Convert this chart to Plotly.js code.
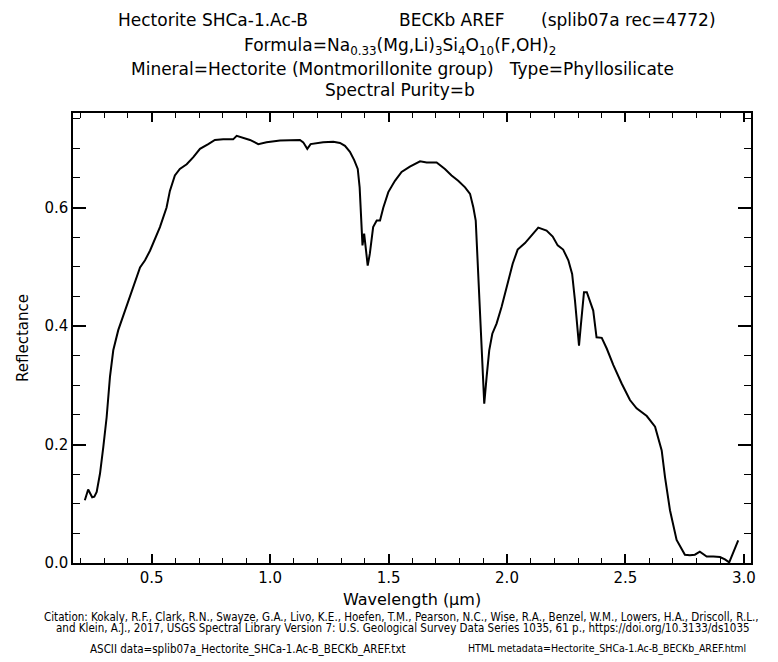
<!DOCTYPE html>
<html>
<head>
<meta charset="utf-8">
<script src="https://cdn.plot.ly/plotly-3.0.1.min.js"></script>
<style>
  html, body { margin: 0; padding: 0; background: #fff; }
  #chart { width: 778px; height: 662px; }
</style>
</head>
<body>
<div id="chart"></div>
<script>
// Wavelength (micrometres)
const wavelength = [
  0.218, 0.232, 0.249, 0.258, 0.268, 0.282, 0.296, 0.310, 0.324, 0.338,
  0.359, 0.373, 0.387, 0.401, 0.416, 0.451, 0.472, 0.493, 0.535, 0.563,
  0.577, 0.598, 0.619, 0.648, 0.676, 0.704, 0.739, 0.767, 0.802, 0.844,
  0.859, 0.880, 0.915, 0.950, 0.985, 1.042, 1.084, 1.126, 1.140, 1.157,
  1.171, 1.224, 1.267, 1.295, 1.316, 1.337, 1.355, 1.370, 1.378, 1.384,
  1.390, 1.397, 1.405, 1.412, 1.421, 1.435, 1.450, 1.464, 1.478, 1.499,
  1.527, 1.555, 1.590, 1.633, 1.661, 1.703, 1.738, 1.766, 1.794, 1.823,
  1.844, 1.858, 1.868, 1.876, 1.886, 1.896, 1.904, 1.914, 1.925, 1.938,
  1.956, 1.977, 1.999, 2.024, 2.045, 2.076, 2.104, 2.132, 2.167, 2.193,
  2.214, 2.237, 2.259, 2.275, 2.287, 2.297, 2.304, 2.311, 2.325, 2.337,
  2.350, 2.364, 2.378, 2.400, 2.421, 2.449, 2.484, 2.519, 2.547, 2.590,
  2.625, 2.653, 2.667, 2.688, 2.716, 2.751, 2.772, 2.793, 2.814, 2.843,
  2.871, 2.899, 2.920, 2.938, 2.976
];
// Reflectance
const reflectance = [
  0.106, 0.124, 0.111, 0.112, 0.120, 0.151, 0.196, 0.246, 0.314, 0.359,
  0.393, 0.409, 0.426, 0.443, 0.460, 0.499, 0.511, 0.527, 0.567, 0.600,
  0.628, 0.654, 0.665, 0.673, 0.685, 0.699, 0.707, 0.714, 0.715, 0.715,
  0.721, 0.718, 0.714, 0.707, 0.710, 0.713, 0.714, 0.714, 0.710, 0.699,
  0.707, 0.710, 0.711, 0.709, 0.704, 0.694, 0.680, 0.665, 0.634, 0.578,
  0.536, 0.556, 0.527, 0.502, 0.522, 0.567, 0.578, 0.578, 0.600, 0.626,
  0.645, 0.660, 0.669, 0.678, 0.676, 0.676, 0.665, 0.654, 0.645, 0.634,
  0.623, 0.600, 0.578, 0.511, 0.426, 0.342, 0.269, 0.314, 0.359, 0.387,
  0.404, 0.432, 0.468, 0.505, 0.529, 0.540, 0.553, 0.566, 0.561, 0.551,
  0.536, 0.529, 0.511, 0.488, 0.443, 0.398, 0.367, 0.398, 0.457, 0.457,
  0.443, 0.426, 0.381, 0.380, 0.362, 0.334, 0.303, 0.275, 0.261, 0.248,
  0.230, 0.190, 0.145, 0.089, 0.039, 0.014, 0.013, 0.014, 0.019, 0.011,
  0.011, 0.010, 0.006, 0.001, 0.038
];

const titleMain = ["Hectorite SHCa-1.Ac-B", "BECKb AREF", "(splib07a rec=4772)"];
const titleFormula = "Formula=Na<sub>0.33</sub>(Mg,Li)<sub>3</sub>Si<sub>4</sub>O<sub>10</sub>(F,OH)<sub>2</sub>";
const titleMineral = "Mineral=Hectorite (Montmorillonite group)   Type=Phyllosilicate";
const titlePurity = "Spectral Purity=b";
const xTitle = "Wavelength (μm)";
const yTitle = "Reflectance";
const citation1 = "Citation: Kokaly, R.F., Clark, R.N., Swayze, G.A., Livo, K.E., Hoefen, T.M., Pearson, N.C., Wise, R.A., Benzel, W.M., Lowers, H.A., Driscoll, R.L.,";
const citation2 = "and Klein, A.J., 2017, USGS Spectral Library Version 7: U.S. Geological Survey Data Series 1035, 61 p., https://doi.org/10.3133/ds1035";
const asciiNote = "ASCII data=splib07a_Hectorite_SHCa-1.Ac-B_BECKb_AREF.txt";
const htmlNote = "HTML metadata=Hectorite_SHCa-1.Ac-B_BECKb_AREF.html";

const FONT = "DejaVu Sans, Liberation Sans, sans-serif";
const SMALL = "DejaVu Sans Condensed, Liberation Sans Narrow, sans-serif";

const trace = {
  x: wavelength, y: reflectance, type: "scatter", mode: "lines",
  line: { color: "#000", width: 2 }, hoverinfo: "skip", showlegend: false
};

function ann(text, x, y, size, family, extra) {
  return Object.assign({
    text: text, x: x, y: y, xref: "paper", yref: "paper",
    xanchor: "center", yanchor: "middle", showarrow: false,
    font: { family: family || FONT, size: size, color: "#000" }
  }, extra || {});
}

const layout = {
  width: 778, height: 662,
  margin: { l: 73, r: 27, t: 113, b: 99 },
  paper_bgcolor: "#fff", plot_bgcolor: "#fff",
  font: { family: FONT, color: "#000", size: 14 },
  xaxis: {
    range: [0.168, 3.03], tick0: 0, dtick: 0.5, tickformat: ".1f",
    ticks: "inside", ticklen: 9, tickwidth: 1.5, tickcolor: "#000",
    showline: true, linecolor: "#000", linewidth: 1.5, mirror: "allticks",
    showgrid: false, zeroline: false,
    tickfont: { family: FONT, size: 15 },
    minor: { dtick: 0.1, ticks: "inside", ticklen: 5, tickwidth: 1.2, tickcolor: "#000" },
    title: { text: xTitle, font: { family: FONT, size: 16 }, standoff: 8 }
  },
  yaxis: {
    range: [0, 0.7595], tick0: 0, dtick: 0.2, tickformat: ".1f",
    ticks: "inside", ticklen: 13, tickwidth: 1.5, tickcolor: "#000",
    showline: true, linecolor: "#000", linewidth: 1.5, mirror: "allticks",
    showgrid: false, zeroline: false,
    tickfont: { family: FONT, size: 15 },
    minor: { dtick: 0.05, ticks: "inside", ticklen: 7, tickwidth: 1.2, tickcolor: "#000" },
    title: { text: yTitle, font: { family: FONT, size: 15 }, standoff: 12 }
  },
  annotations: [
    ann(titleMain[0], 0.2065, 1.2067, 17),
    ann(titleMain[1], 0.559, 1.2067, 17),
    ann(titleMain[2], 0.8186, 1.2067, 17),
    ann(titleFormula, 0.4823, 1.1467, 17),
    ann(titleMineral, 0.4867, 1.0978, 17),
    ann(titlePurity, 0.4823, 1.0511, 17),
    ann(citation1, 0.4838, -0.1200, 11.5, SMALL),
    ann(citation2, 0.4867, -0.1444, 11.5, SMALL),
    ann(asciiNote, 0.258, -0.1911, 11.5, SMALL),
    ann(htmlNote, 0.7876, -0.1911, 10.5, SMALL)
  ]
};

Plotly.newPlot("chart", [trace], layout, { displayModeBar: false });
</script>
</body>
</html>
